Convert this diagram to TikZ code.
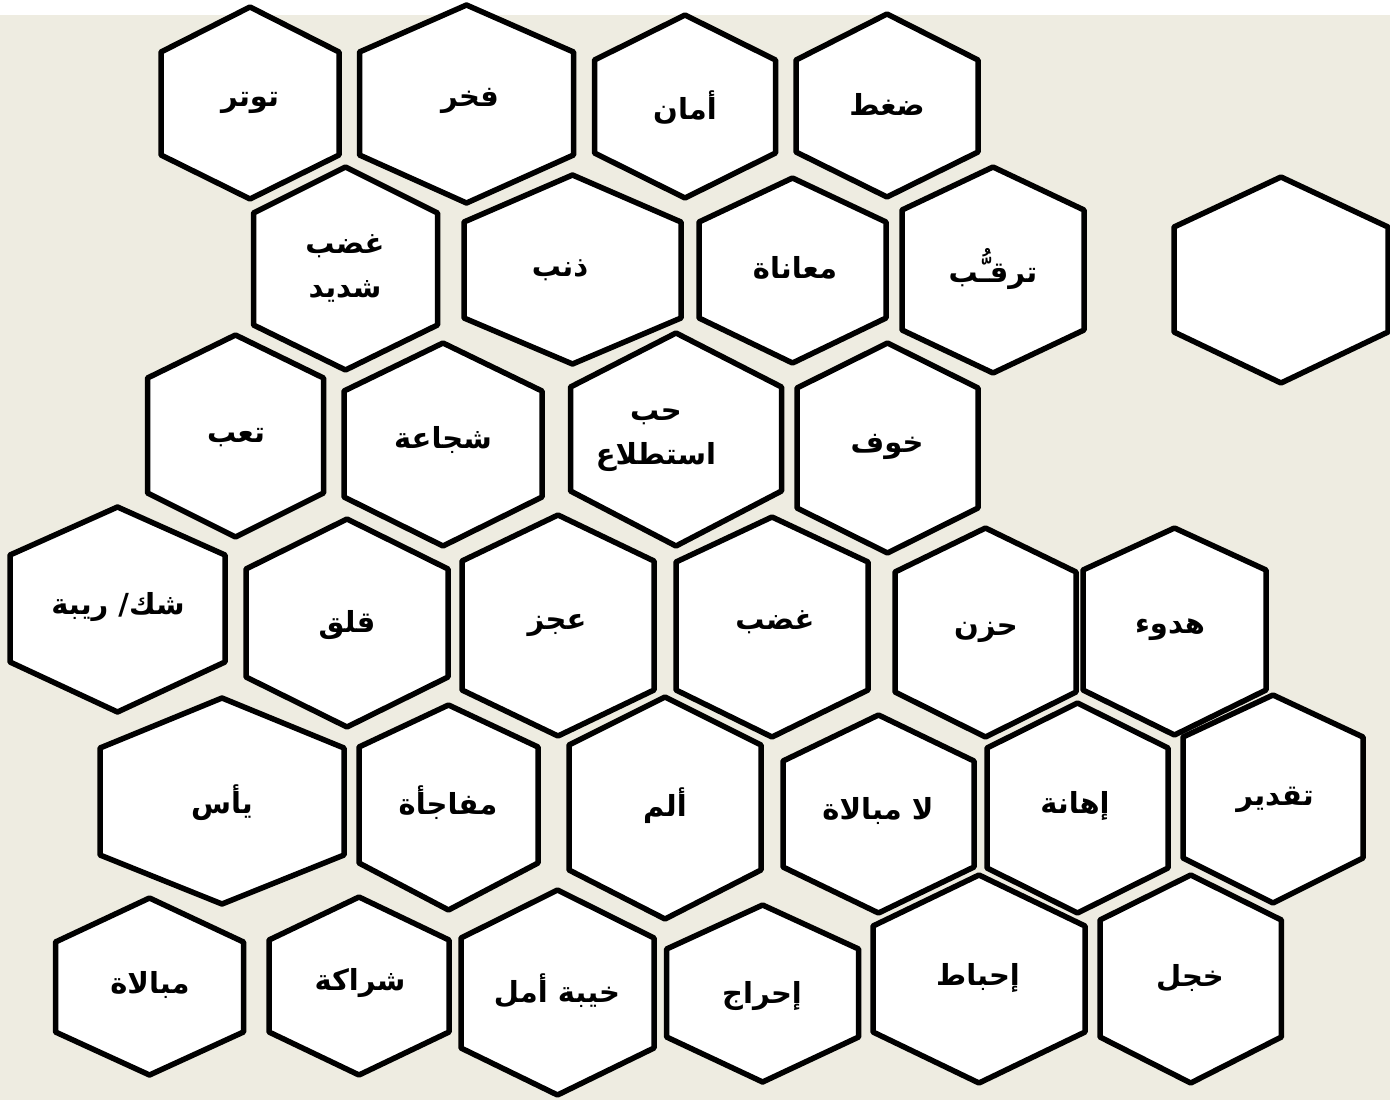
\documentclass[tikz,border=0pt]{standalone}
\usepackage{fontspec}
\TeXXeTstate=1
\newfontfamily\arabicfont[Script=Arabic]{DejaVu Sans}
\definecolor{bgbeige}{HTML}{EEECE1}
\tikzset{
  hexline/.style={draw=black, fill=white, line width=5.5pt, line join=round},
  lbl/.style={font=\arabicfont\bfseries\fontsize{29}{44}\selectfont, align=center, inner sep=0pt}
}
\newcommand\hexcell[6]{% cx, hw, top, sh1, sh2, bottom
  \draw[hexline] (#1,#3) -- (#1-#2,#4) -- (#1-#2,#5) -- (#1,#6) -- (#1+#2,#5) -- (#1+#2,#4) -- cycle;}
\newcommand\ar[1]{\beginR #1\endR}
\begin{document}
\begin{tikzpicture}[x=1pt,y=-1pt]
\useasboundingbox (0,0) rectangle (1390,1100);
\fill[bgbeige] (0,0) rectangle (1390,1100);
\fill[white] (0,0) rectangle (1390,15);
% row 1
\hexcell{250}{89}{7}{52}{155}{199}
\hexcell{466.5}{107}{5}{52}{155}{203}
\hexcell{685}{90.5}{15}{60}{153}{198}
\hexcell{887}{91}{14}{60}{152}{197}
% row 2
\hexcell{345.5}{92}{167}{213}{325}{370}
\hexcell{572.5}{108.5}{175}{222}{318}{364}
\hexcell{792.5}{93.5}{178}{222}{318}{363}
\hexcell{993}{91}{167}{210}{330}{373}
\hexcell{1281}{107}{177}{227}{332}{383}
% row 3
\hexcell{235.5}{88}{335}{378}{493}{537}
\hexcell{443}{99}{343}{391}{497}{546}
\hexcell{676}{105.5}{333}{387}{491}{546}
\hexcell{887.5}{90.5}{343}{388}{508}{553}
% row 4
\hexcell{117.5}{107.5}{507}{555}{662}{712}
\hexcell{347}{101}{519}{569}{677}{727}
\hexcell{558}{96}{515}{561}{690}{736}
\hexcell{772}{96}{517}{562}{690}{737}
\hexcell{985.5}{90.5}{528}{572}{692}{737}
\hexcell{1174.5}{91.5}{528}{570}{690}{735}
% row 5
\hexcell{222}{122}{698}{748}{855}{904}
\hexcell{448.5}{89.5}{705}{747}{863}{910}
\hexcell{665}{96}{697}{745}{870}{919}
\hexcell{878.5}{95.5}{715}{761}{867}{913}
\hexcell{1077.5}{90.5}{703}{748}{868}{913}
\hexcell{1273}{90}{695}{737}{858}{903}
% row 6
\hexcell{149.5}{94}{898}{942}{1032}{1075}
\hexcell{359}{90}{897}{940}{1032}{1075}
\hexcell{557.5}{96.5}{890}{938}{1048}{1095}
\hexcell{762.6}{96}{905}{949}{1037}{1082}
\hexcell{979}{106}{875}{926}{1032}{1083}
\hexcell{1190.7}{90.7}{875}{920}{1037}{1083}
% labels
\node[lbl] (t1) at (250,103) {\ar{توتر}};
\node[lbl] (t2) at (470,101) {\ar{فخر}};
\node[lbl] (t3) at (685,107) {\ar{أمان}};
\node[lbl] (t4) at (887,104) {\ar{ضغط}};
\node[lbl] (t5) at (345,268) {\ar{غضب}\\\ar{شديد}};
\node[lbl] (t6) at (560,270) {\ar{ذنب}};
\node[lbl] (t7) at (795,268) {\ar{معاناة}};
\node[lbl] (t8) at (993,269) {\ar{ترقـُّب}};
\node[lbl] (t9) at (236,438) {\ar{تعب}};
\node[lbl] (t10) at (443,440) {\ar{شجاعة}};
\node[lbl] (t11) at (656,440) {\ar{حب}\\\ar{استطلاع}};
\node[lbl] (t12) at (887,447) {\ar{خوف}};
\node[lbl] (t13) at (118,607) {\ar{شك/ ريبة}};
\node[lbl] (t14) at (347,625) {\ar{قلق}};
\node[lbl] (t15) at (557,625) {\ar{عجز}};
\node[lbl] (t16) at (775,622) {\ar{غضب}};
\node[lbl] (t17) at (986,632) {\ar{حزن}};
\node[lbl] (t18) at (1170,630) {\ar{هدوء}};
\node[lbl] (t19) at (222,803) {\ar{يأس}};
\node[lbl] (t20) at (448,803) {\ar{مفاجأة}};
\node[lbl] (t21) at (665,806) {\ar{ألم}};
\node[lbl] (t22) at (878,811) {\ar{لا مبالاة}};
\node[lbl] (t23) at (1075,806) {\ar{إهانة}};
\node[lbl] (t24) at (1275,800) {\ar{تقدير}};
\node[lbl] (t25) at (150,985) {\ar{مبالاة}};
\node[lbl] (t26) at (360,983) {\ar{شراكة}};
\node[lbl] (t27) at (557,991) {\ar{خيبة أمل}};
\node[lbl] (t28) at (762,996) {\ar{إحراج}};
\node[lbl] (t29) at (978,978) {\ar{إحباط}};
\node[lbl] (t30) at (1190,978) {\ar{خجل}};
\end{tikzpicture}
\end{document}
